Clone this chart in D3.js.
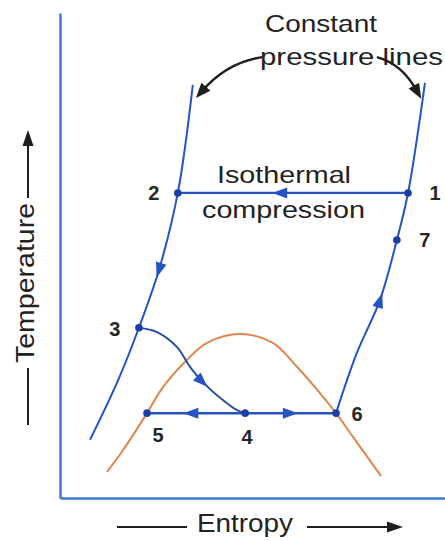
<!DOCTYPE html>
<html>
<head>
<meta charset="utf-8">
<script src="https://cdn.jsdelivr.net/npm/d3@7/dist/d3.min.js"></script>
<style>
  html, body { margin: 0; padding: 0; background: #ffffff; }
  svg { display: block; }
  text { font-family: "Liberation Sans", Arial, Helvetica, sans-serif; fill: #222; }
</style>
</head>
<body>
<svg id="chart" width="445" height="541"></svg>
<script>
// ---------- data (entropy / temperature, arbitrary units 0..10) ----------
const stateLabels      = ["1", "2", "3", "4", "5", "6", "7"];
const stateEntropy     = [9.04, 3.06, 2.05, 4.81, 2.26, 7.17, 8.75];
const stateTemperature = [6.29, 6.29, 3.51, 1.75, 1.75, 1.75, 5.32];

const highPressureS = [3.45, 3.06, 2.57, 2.05, 1.51, 0.78];
const highPressureT = [8.52, 6.29, 4.70, 3.51, 2.43, 1.20];

const lowPressureS = [9.48, 9.04, 8.75, 8.31, 7.71, 7.17];
const lowPressureT = [8.56, 6.29, 5.32, 4.08, 2.99, 1.75];

const domeS = [1.22, 1.64, 2.26, 2.68, 3.30, 3.82, 4.68, 5.53, 6.16, 6.68, 7.17, 7.61, 8.34];
const domeT = [0.54, 0.99, 1.75, 2.29, 2.85, 3.20, 3.38, 3.20, 2.70, 2.23, 1.75, 1.26, 0.45];

const throttleS = [2.05, 2.52, 3.04, 3.38, 3.71, 4.23, 4.60, 4.81];
const throttleT = [3.51, 3.42, 3.11, 2.70, 2.39, 2.02, 1.81, 1.75];

const axisTitles = ["Entropy", "Temperature"];
const noteLines = ["Constant", "pressure lines"];
const processLines = ["Isothermal", "compression"];

// ---------- layout / style ----------
const W = 445, H = 541;
const blue = "#2553c4", dotBlue = "#1b3fa6", axisBlue = "#3b7bd3", orange = "#dd8750", ink = "#1e1e1e";

const x = d3.scaleLinear().domain([0, 10]).range([60, 445]);
const y = d3.scaleLinear().domain([0, 10]).range([498, 13]);

const svg = d3.select("#chart");

const zip = (a, b) => a.map((v, i) => [v, b[i]]);
const line = d3.line().x(d => x(d[0])).y(d => y(d[1])).curve(d3.curveCatmullRom.alpha(0.5));

function tri(g, tipX, tipY, ang, len, hw, fill) {
  const bx = tipX - len * Math.cos(ang), by = tipY - len * Math.sin(ang);
  const px = -Math.sin(ang) * hw, py = Math.cos(ang) * hw;
  g.append("path")
    .attr("d", `M${tipX},${tipY}L${bx + px},${by + py}L${bx - px},${by - py}Z`)
    .attr("fill", fill);
}

// ---------- axes (no ticks) ----------
svg.append("g").attr("transform", `translate(0,${y(0)})`)
  .call(d3.axisBottom(x).tickValues([]).tickSizeOuter(0))
  .call(g => g.select(".domain").attr("stroke", axisBlue).attr("stroke-width", 2.5));
svg.append("g").attr("transform", `translate(${x(0)},0)`)
  .call(d3.axisLeft(y).tickValues([]).tickSizeOuter(0))
  .call(g => g.select(".domain").attr("stroke", axisBlue).attr("stroke-width", 2.5));

// ---------- saturation dome ----------
svg.append("path").attr("d", line(zip(domeS, domeT)))
  .attr("fill", "none").attr("stroke", orange).attr("stroke-width", 2);

// ---------- process lines ----------
const plot = svg.append("g");
const st = i => [stateEntropy[i], stateTemperature[i]];

plot.append("path").attr("d", line(zip(highPressureS, highPressureT)))
  .attr("fill", "none").attr("stroke", blue).attr("stroke-width", 2);
plot.append("path").attr("d", line(zip(lowPressureS, lowPressureT)))
  .attr("fill", "none").attr("stroke", blue).attr("stroke-width", 2);
plot.append("path").attr("d", line([st(0), st(1)]))
  .attr("fill", "none").attr("stroke", blue).attr("stroke-width", 2.2);
plot.append("path").attr("d", line([st(4), st(5)]))
  .attr("fill", "none").attr("stroke", blue).attr("stroke-width", 2.5);
plot.append("path").attr("d", line(zip(throttleS, throttleT)))
  .attr("fill", "none").attr("stroke", "#27509f").attr("stroke-width", 2);

// ---------- flow arrows ----------
const flowArrows = [
  { pts: [st(0), st(1)], t: 0.59 },
  { pts: [st(1), [2.57, 4.70], st(2)], t: 0.62 },
  { pts: zip(throttleS, throttleT), t: 0.67 },
  { pts: [st(3), st(4)], t: 0.63 },
  { pts: [st(3), st(5)], t: 0.58 },
  { pts: [st(5), [7.71, 2.99], [8.31, 4.08], st(6)], t: 0.70 }
];
const hidden = svg.append("g").attr("visibility", "hidden");
flowArrows.forEach(a => {
  const p = hidden.append("path").attr("d", line(a.pts)).node();
  const L = p.getTotalLength();
  const tip = p.getPointAtLength(a.t * L);
  const back = p.getPointAtLength(a.t * L - 2);
  const ang = Math.atan2(tip.y - back.y, tip.x - back.x);
  tri(plot, tip.x, tip.y, ang, 15, 5.5, blue);
});

// ---------- state points ----------
plot.selectAll("circle.state").data(stateLabels).join("circle")
  .attr("class", "state")
  .attr("cx", (d, i) => x(stateEntropy[i]))
  .attr("cy", (d, i) => y(stateTemperature[i]))
  .attr("r", 3.8).attr("fill", dotBlue);

const labelOffsets = [[27, 0], [-24, 0], [-24, 1], [2, 24], [11, 22], [21, 1], [28, 0]];
plot.selectAll("text.state").data(stateLabels).join("text")
  .attr("class", "state")
  .attr("x", (d, i) => x(stateEntropy[i]) + labelOffsets[i][0])
  .attr("y", (d, i) => y(stateTemperature[i]) + labelOffsets[i][1])
  .attr("text-anchor", "middle").attr("dominant-baseline", "central")
  .attr("font-size", 20).attr("font-weight", "bold")
  .style("fill", "#262626")
  .text(d => d);

// ---------- annotations ----------
const ann = svg.append("g");
function addText(str, tx, ty, size, len) {
  ann.append("text").attr("x", tx).attr("y", ty).attr("font-size", size)
    .attr("textLength", len).attr("lengthAdjust", "spacingAndGlyphs")
    .text(str);
}
addText(noteLines[0], 265, 32, 24, 112);
addText(noteLines[1], 260, 65, 24, 183);
addText(processLines[0], 217, 183, 24, 134);
addText(processLines[1], 202, 218, 24, 163);

// curved pointer arrows to the constant-pressure lines
const pointers = [
  { s: [5.25, 9.09], c: [4.36, 8.99], e: [3.53, 8.25] },
  { s: [8.23, 9.09], c: [8.88, 8.95], e: [9.38, 8.23] }
];
pointers.forEach(p => {
  const sx = x(p.s[0]), sy = y(p.s[1]), cx = x(p.c[0]), cy = y(p.c[1]), ex = x(p.e[0]), ey = y(p.e[1]);
  const ang = Math.atan2(ey - cy, ex - cx);
  const path = d3.path();
  path.moveTo(sx, sy);
  path.quadraticCurveTo(cx, cy, ex - 10 * Math.cos(ang), ey - 10 * Math.sin(ang));
  ann.append("path").attr("d", path.toString()).attr("fill", "none")
    .attr("stroke", ink).attr("stroke-width", 2.5);
  tri(ann, ex, ey, ang, 15, 6, ink);
});

// axis titles with arrows
addText(axisTitles[0], 197, 532, 25, 96);
ann.append("line").attr("x1", 117).attr("x2", 187).attr("y1", 527).attr("y2", 527)
  .attr("stroke", ink).attr("stroke-width", 2);
ann.append("line").attr("x1", 307).attr("x2", 392).attr("y1", 527).attr("y2", 527)
  .attr("stroke", ink).attr("stroke-width", 2);
tri(ann, 403, 527, 0, 16, 5.5, ink);

ann.append("text").attr("transform", "translate(34,283) rotate(-90)")
  .attr("text-anchor", "middle").attr("font-size", 25)
  .attr("textLength", 160).attr("lengthAdjust", "spacingAndGlyphs")
  .text(axisTitles[1]);
ann.append("line").attr("x1", 28).attr("x2", 28).attr("y1", 198).attr("y2", 140)
  .attr("stroke", ink).attr("stroke-width", 2);
tri(ann, 28, 130, -Math.PI / 2, 16, 5.5, ink);
ann.append("line").attr("x1", 28).attr("x2", 28).attr("y1", 368).attr("y2", 425)
  .attr("stroke", ink).attr("stroke-width", 2);
</script>
</body>
</html>
